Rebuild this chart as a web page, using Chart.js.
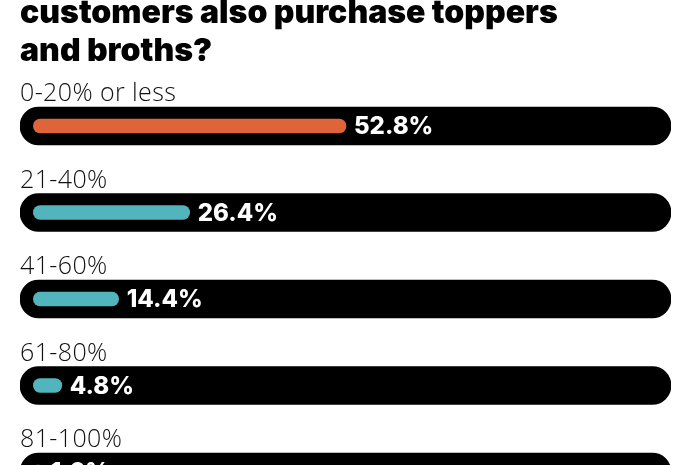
<!DOCTYPE html>
<html>
<head>
<meta charset="utf-8">
<script src="https://cdn.jsdelivr.net/npm/chart.js@4.4.0/dist/chart.umd.min.js"></script>
<style>
  html, body { margin: 0; padding: 0; background: #fff; overflow: hidden; }
  #wrap { position: relative; width: 700px; height: 520px; }
</style>
</head>
<body>
<div id="wrap"><canvas id="chart" width="700" height="520"></canvas></div>
<script>
const titleLines = ["customers also purchase toppers", "and broths?"];
const categories = ["0-20% or less", "21-40%", "41-60%", "61-80%", "81-100%"];
const shares = [52.8, 26.4, 14.4, 4.8, 1.6];
const barColors = ["#e0643a", "#52b4bd", "#52b4bd", "#52b4bd", "#52b4bd"];
const axisMin = -2.26;
const axisMax = 107.7;
const trackValues = categories.map(() => axisMax);

// text: title, row labels above the tracks, value labels after the bars
const labelPlugin = {
    id: "rowLabels",
    afterDatasetsDraw(chart) {
        const ctx = chart.ctx;
        const xScale = chart.scales.x;
        const yScale = chart.scales.y;
        ctx.save();
        ctx.textAlign = "left";
        ctx.textBaseline = "alphabetic";
        ctx.fillStyle = "#000";
        ctx.font = "900 32px Inter";
        titleLines.forEach((line, i) => ctx.fillText(line, 20, 23 + i * 38));

        categories.forEach((cat, i) => {
            const y = yScale.getPixelForValue(i);
            ctx.textBaseline = "alphabetic";
            ctx.fillStyle = "#111";
            ctx.font = "300 25px 'Open Sans'";
            ctx.letterSpacing = "0.4px";
            ctx.fillText(cat, 20, y - 25);

            ctx.letterSpacing = "0px";
            ctx.textBaseline = "middle";
            ctx.fillStyle = "#fff";
            ctx.font = "800 24px Inter";
            ctx.fillText(shares[i].toFixed(1) + "%", xScale.getPixelForValue(shares[i]) + 8, y + 1);
        });
        ctx.restore();
    }
};

new Chart(document.getElementById("chart"), {
    type: "bar",
    data: {
        labels: categories,
        datasets: [{
            label: "track",
            data: trackValues,
            base: axisMin,
            backgroundColor: "#000",
            barThickness: 38,
            borderRadius: 19,
            borderSkipped: false,
            grouped: false,
            order: 2
        }, {
            label: "share",
            data: shares,
            backgroundColor: barColors,
            barThickness: 14,
            borderRadius: 7,
            borderSkipped: false,
            grouped: false,
            order: 1
        }]
    },
    options: {
        indexAxis: "y",
        responsive: false,
        animation: false,
        layout: {
            padding: { top: 82.75, left: 20, right: 29, bottom: 4.75 }
        },
        plugins: {
            legend: { display: false },
            tooltip: { enabled: false }
        },
        scales: {
            x: { type: "linear", min: axisMin, max: axisMax, display: false },
            y: { display: false }
        }
    },
    plugins: [labelPlugin]
});
</script>
</body>
</html>
